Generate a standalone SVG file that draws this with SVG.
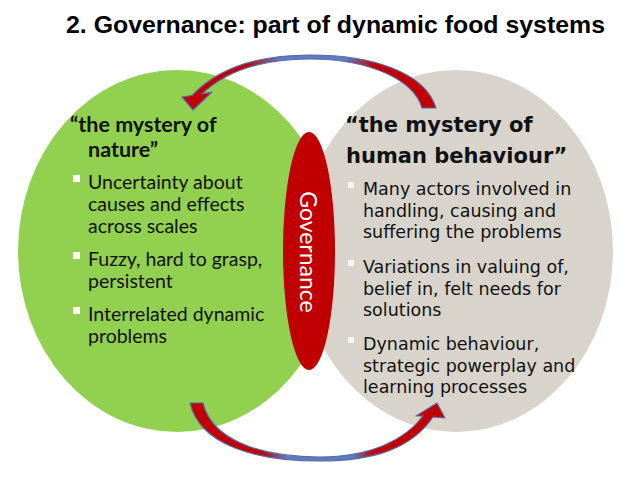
<svg xmlns="http://www.w3.org/2000/svg" width="638" height="479" viewBox="0 0 638 479">
<style>
.title{font-family:"Liberation Sans",Arial,sans-serif;font-weight:bold;font-size:24px;fill:#000}
.lh{font-family:Lato,"Noto Sans",sans-serif;font-weight:bold;font-size:21.5px;fill:#111}
.lt{font-family:Lato,"Noto Sans",sans-serif;font-size:19.5px;fill:#111}
.rh{font-family:"DejaVu Sans",Verdana,sans-serif;font-weight:bold;font-size:21px;fill:#111}
.rt{font-family:"DejaVu Sans",Verdana,sans-serif;font-size:17.5px;fill:#111}
.gov{font-family:Lato,"Noto Sans",sans-serif;font-size:23px;fill:#fff}
.arrow{stroke:#5b6aa8;stroke-width:1.2;stroke-linejoin:round}
</style>
<defs>
<linearGradient id="gTop" gradientUnits="userSpaceOnUse" x1="190" y1="0" x2="440" y2="0">
<stop offset="0" stop-color="#c00000"/>
<stop offset="0.22" stop-color="#c00000"/>
<stop offset="0.36" stop-color="#5b7cc0"/>
<stop offset="0.62" stop-color="#5b7cc0"/>
<stop offset="0.74" stop-color="#c00000"/>
<stop offset="1" stop-color="#c00000"/>
</linearGradient>
<linearGradient id="gBot" gradientUnits="userSpaceOnUse" x1="190" y1="0" x2="445" y2="0">
<stop offset="0" stop-color="#c00000"/>
<stop offset="0.28" stop-color="#c00000"/>
<stop offset="0.38" stop-color="#5b7cc0"/>
<stop offset="0.64" stop-color="#5b7cc0"/>
<stop offset="0.72" stop-color="#c00000"/>
<stop offset="1" stop-color="#c00000"/>
</linearGradient>
</defs>
<rect width="638" height="479" fill="#fff"/>
<g id="title">
<text class="title" x="66" y="33" textLength="539" lengthAdjust="spacingAndGlyphs">2. Governance: part of dynamic food systems</text>
</g>
<g id="nature">
<ellipse cx="177" cy="251" rx="159" ry="181" fill="#92d050"/>
<text class="lh" x="70" y="132">“the mystery of</text>
<text class="lh" x="88" y="157">nature”</text>
<g fill="#fff">
<rect x="73" y="175" width="7" height="7"/>
<rect x="73" y="252" width="7" height="7"/>
<rect x="73" y="307" width="7" height="7"/>
</g>
<text class="lt" x="88" y="189">Uncertainty about</text>
<text class="lt" x="88" y="211">causes and effects</text>
<text class="lt" x="88" y="233">across scales</text>
<text class="lt" x="88" y="266">Fuzzy, hard to grasp,</text>
<text class="lt" x="88" y="288">persistent</text>
<text class="lt" x="88" y="321">Interrelated dynamic</text>
<text class="lt" x="88" y="343">problems</text>
</g>
<g id="human">
<ellipse cx="456" cy="251" rx="157" ry="181" fill="#d8d4cb"/>
<text class="rh" x="345" y="132">“the mystery of</text>
<text class="rh" x="346" y="163">human behaviour”</text>
<g fill="#f4f4f4">
<rect x="348" y="182" width="6" height="6"/>
<rect x="348" y="260" width="6" height="6"/>
<rect x="348" y="337" width="6" height="6"/>
</g>
<text class="rt" x="363" y="195">Many actors involved in</text>
<text class="rt" x="363" y="216.5">handling, causing and</text>
<text class="rt" x="363" y="238">suffering the problems</text>
<text class="rt" x="363" y="273">Variations in valuing of,</text>
<text class="rt" x="363" y="294.5">belief in, felt needs for</text>
<text class="rt" x="363" y="316">solutions</text>
<text class="rt" x="363" y="350">Dynamic behaviour,</text>
<text class="rt" x="363" y="371.5">strategic powerplay and</text>
<text class="rt" x="363" y="393">learning processes</text>
</g>
<g id="governance">
<ellipse cx="309" cy="251" rx="26" ry="119" fill="#c00000"/>
<text class="gov" transform="translate(309,252) rotate(90)" text-anchor="middle" dominant-baseline="central">Governance</text>
</g>
<g id="connectors">
<path class="arrow" fill="url(#gTop)" d="M 422 108 C 414 80, 370 59, 310 59 C 260 59, 225 72, 202 94 L 212 92 L 193 110 L 182 97 L 192 95.5 C 218 68, 258 55, 310 55 C 372 55, 425 72, 436 108 Z"/>
<path class="arrow" fill="url(#gBot)" d="M 190 403 L 203 403 C 212 440, 260 457, 320 457 C 370 457, 405 440, 423 416 L 416 416 L 437 403 L 445 418 L 433 417 C 412 448, 375 461, 320 461 C 255 461, 200 445, 190 403 Z"/>
</g>
</svg>
